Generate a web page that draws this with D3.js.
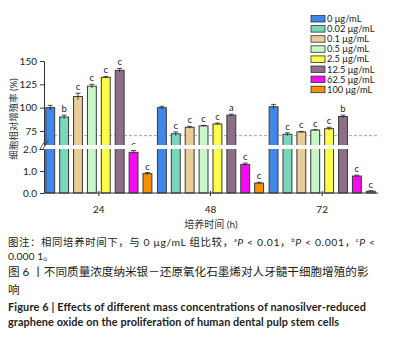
<!DOCTYPE html>
<html><head><meta charset="utf-8">
<script src="https://cdn.jsdelivr.net/npm/d3@7"></script>
<style>
body{margin:0;background:#fff;}
text{font-family:Lato,"Noto Sans CJK SC",sans-serif;}
</style></head>
<body><svg id="c" width="395" height="343"></svg>
<script>
const times = ["24","48","72"];
const concentrations = ["0 μg/mL","0.02 μg/mL","0.1 μg/mL","0.5 μg/mL","2.5 μg/mL","12.5 μg/mL","62.5 μg/mL","100 μg/mL"];
const colors = ["#3f88ea","#78d8bb","#e8cd99","#c8f6c6","#fdfd47","#8d7088","#f50cf2","#f39200"];
const values24 = [100, 90, 112, 123, 132.5, 140, 1.85, 0.88];
const values48 = [100, 72, 79, 80.5, 82.5, 92, 1.3, 0.45];
const values72 = [101, 71.5, 74, 76, 77.5, 90.5, 0.77, 0.08];
const errors24 = [2.5, 2, 3.5, 2, 1, 2, 0.08, 0.05];
const errors48 = [1.5, 2, 1, 0.5, 1, 1, 0.06, 0.04];
const errors72 = [2.5, 1.5, 0.5, 0.5, 1.5, 1.5, 0.04, 0.02];
const sig24 = ["", "b", "c", "c", "c", "c", "c", "c"];
const sig48 = ["", "c", "c", "c", "c", "a", "c", "c"];
const sig72 = ["", "c", "c", "c", "c", "b", "c", "c"];
const upperTicks = [75, 100, 125, 150];
const lowerTicks = [0, 1, 2];
const refLine = 70;

const values = [values24, values48, values72];
const errors = [errors24, errors48, errors72];
const sigs = [sig24, sig48, sig72];

const svg = d3.select("#c");
const x0 = d3.scaleBand().domain(times).range([43, 378]).paddingInner(0).paddingOuter(0);
const x1 = d3.scaleBand().domain(concentrations).range([0, x0.bandwidth()]).paddingInner(0.36).paddingOuter(0.2);
const yTop = d3.scaleLinear().domain([60, 150]).range([145, 61]);
const yBot = d3.scaleLinear().domain([0, 2]).range([193, 149]);
const y = v => v > 2 ? yTop(v) : yBot(v);

const data = [];
times.forEach((t, i) => concentrations.forEach((c, j) => data.push({t, c, j, v: values[i][j], e: errors[i][j], s: sigs[i][j]})));

// dashed reference line
svg.append("line").attr("x1", 44).attr("x2", 378).attr("y1", yTop(refLine)).attr("y2", yTop(refLine))
  .attr("stroke", "#888").attr("stroke-width", 0.8).attr("stroke-dasharray", "3,2");

const g = svg.append("g");
g.selectAll("rect.bar").data(data).join("rect").attr("class", "bar")
  .attr("x", d => x0(d.t) + x1(d.c)).attr("width", x1.bandwidth())
  .attr("y", d => y(d.v)).attr("height", d => yBot(0) - y(d.v))
  .attr("fill", d => colors[d.j]).attr("stroke", "#3a3a3a").attr("stroke-width", 1);

// error bars
const eb = g.selectAll("g.eb").data(data).join("g").attr("class", "eb");
eb.append("line").attr("x1", d => x0(d.t) + x1(d.c) + x1.bandwidth()/2).attr("x2", d => x0(d.t) + x1(d.c) + x1.bandwidth()/2)
  .attr("y1", d => y(d.v - d.e)).attr("y2", d => y(d.v + d.e)).attr("stroke", "#222").attr("stroke-width", 0.8);
eb.append("line").attr("x1", d => x0(d.t) + x1(d.c) + x1.bandwidth()/2 - 2.5).attr("x2", d => x0(d.t) + x1(d.c) + x1.bandwidth()/2 + 2.5)
  .attr("y1", d => y(d.v + d.e)).attr("y2", d => y(d.v + d.e)).attr("stroke", "#222").attr("stroke-width", 0.8);

// significance
g.selectAll("text.sig").data(data.filter(d => d.s)).join("text").attr("class", "sig")
  .attr("x", d => x0(d.t) + x1(d.c) + x1.bandwidth()/2).attr("y", d => y(d.v + d.e) - 3)
  .attr("text-anchor", "middle").attr("font-size", 9.5).attr("fill", "#222").text(d => d.s);

// break band
svg.append("rect").attr("x", 30).attr("width", 350).attr("y", yTop(60)).attr("height", yBot(2) - yTop(60)).attr("fill", "#fff");

// axes
const axUp = svg.append("g").attr("transform", "translate(44,0)")
  .call(d3.axisLeft(yTop).tickValues(upperTicks).tickSize(4).tickSizeOuter(0));
const axLo = svg.append("g").attr("transform", "translate(44,0)")
  .call(d3.axisLeft(yBot).tickValues(lowerTicks).tickSize(4).tickSizeOuter(0));
[axUp, axLo].forEach(a => {
  a.select(".domain").attr("stroke", "#333");
  a.selectAll(".tick line").attr("stroke", "#333");
  a.selectAll(".tick text").attr("font-size", 10).attr("fill", "#222").attr("font-family", "Lato, sans-serif");
});
// break marks
[[-1.5],[1.5]].forEach(([o]) => {
  svg.append("line").attr("x1", 41 + o).attr("x2", 47 + o).attr("y1", yBot(2) + 1).attr("y2", yTop(60) - 5)
    .attr("stroke", "#333").attr("stroke-width", 0.8);
});

const axX = svg.append("g").attr("transform", `translate(0,${yBot(0)})`)
  .call(d3.axisBottom(x0).tickSize(3).tickSizeOuter(0).tickPadding(10));
axX.select(".domain").attr("stroke", "#333").attr("d", "M44,0H378");
axX.selectAll(".tick line").attr("stroke", "#333").attr("y1", -2);
axX.selectAll(".tick text").attr("font-size", 10).attr("fill", "#222");

svg.append("text").attr("transform", "translate(17,119) rotate(-90)").attr("text-anchor", "middle")
  .attr("font-size", 9.5).attr("fill", "#333").text("细胞相对增殖率 (%)");
svg.append("text").attr("x", 211).attr("y", 228).attr("text-anchor", "middle")
  .attr("font-size", 10).attr("fill", "#333").text("培养时间 (h)");

// legend
const lg = svg.append("g").attr("transform", "translate(311,14)");
concentrations.forEach((c, i) => {
  lg.append("rect").attr("x", 0).attr("y", i * 10.1 + 1.5).attr("width", 14).attr("height", 6.5)
    .attr("fill", colors[i]).attr("stroke", "#333").attr("stroke-width", 0.8);
  lg.append("text").attr("x", 16).attr("y", i * 10.1 + 8).attr("font-size", 9.3).attr("fill", "#222").text(c);
});

// captions
const cap = svg.append("g");
const lat = "'Open Sans', 'Noto Sans CJK SC', sans-serif";
const l1 = cap.append("text").attr("x", 8).attr("y", 245.5).attr("font-size", 10.4).attr("fill", "#222")
  .attr("font-family", lat).attr("textLength", 367).attr("lengthAdjust", "spacing");
l1.append("tspan").text("图注：相同培养时间下，与 0 μg/mL 组比较，");
[["a","0.01，"],["b","0.001，"],["c",""]].forEach(([s, v], k) => {
  l1.append("tspan").attr("font-size", 6).attr("dy", -4).text(s);
  l1.append("tspan").attr("font-style", "italic").attr("dy", 4).text("P");
  l1.append("tspan").text(k < 2 ? " < " + v : " <");
});
cap.append("text").attr("x", 8).attr("y", 260).attr("font-size", 10.4).attr("fill", "#222").attr("font-family", lat).text("0.000 1。");
cap.append("text").attr("x", 8).attr("y", 276).attr("font-size", 11.6).attr("fill", "#222").text("图 6 丨不同质量浓度纳米银－还原氧化石墨烯对人牙髓干细胞增殖的影");
cap.append("text").attr("x", 8).attr("y", 294).attr("font-size", 11.6).attr("fill", "#222").text("响");
cap.append("text").attr("x", 8).attr("y", 310.5).attr("font-size", 10.9).attr("font-weight", "bold").attr("fill", "#222")
  .attr("textLength", 358).attr("lengthAdjust", "spacing").text("Figure 6  |  Effects of different mass concentrations of nanosilver-reduced");
cap.append("text").attr("x", 8).attr("y", 325.5).attr("font-size", 10.9).attr("font-weight", "bold").attr("fill", "#222")
  .attr("textLength", 331).attr("lengthAdjust", "spacing").text("graphene oxide on the proliferation of human dental pulp stem cells");
</script></body></html>
